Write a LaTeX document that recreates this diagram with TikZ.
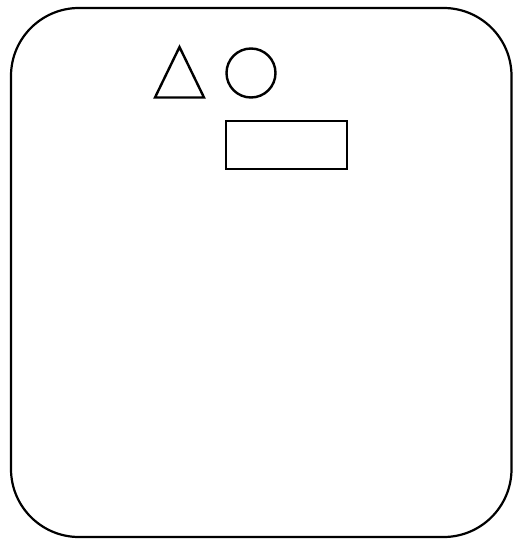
\documentclass[tikz,border=0pt]{standalone}
\begin{document}
\begin{tikzpicture}[x=1pt,y=-1pt,
  shape line/.style={draw=black,line width=2.4pt,line join=miter},
  frame line/.style={draw=black,line width=2.2pt,rounded corners=68pt}]
\useasboundingbox (0,0) rectangle (519,540);
\draw[frame line] (11,8) rectangle (511.5,537);
\coordinate (tA) at (179.5,47);
\coordinate (tB) at (155,97.5);
\coordinate (tC) at (204,97.5);
\draw[shape line] (tA) -- (tB) -- (tC) -- cycle;
\node[shape line,circle,minimum size=49pt,inner sep=0pt] (circ) at (251,73) {};
\node[shape line,rectangle,minimum width=121pt,minimum height=48.5pt,inner sep=0pt] (box) at (286.5,145) {};
\end{tikzpicture}
\end{document}
